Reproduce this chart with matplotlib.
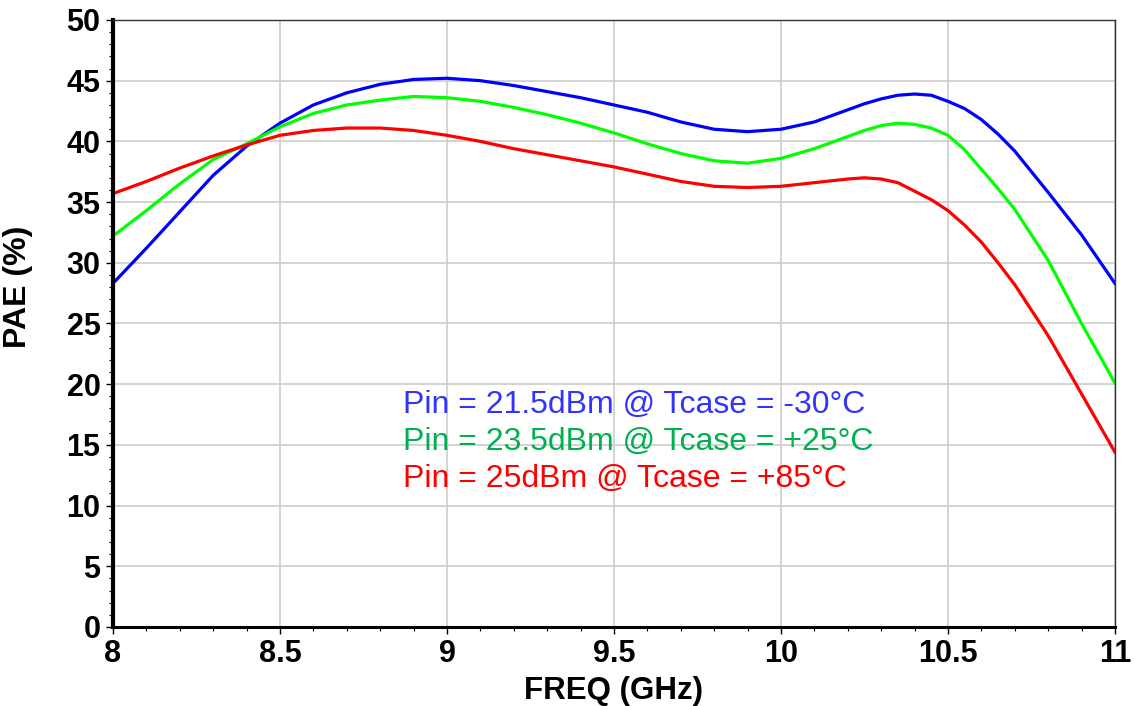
import numpy as np
import matplotlib
matplotlib.use("Agg")
import matplotlib.pyplot as plt
from matplotlib.ticker import MultipleLocator

# frequency points (GHz)
freq = [8.0, 8.1, 8.2, 8.3, 8.4, 8.5, 8.6, 8.7, 8.8, 8.9, 9.0,
        9.1, 9.2, 9.3, 9.4, 9.5, 9.6, 9.7, 9.8, 9.9, 10.0,
        10.1, 10.2, 10.25, 10.3, 10.35, 10.4, 10.45, 10.5, 10.55, 10.6,
        10.65, 10.7, 10.8, 10.9, 11.0]

# PAE (%) per condition
pae_cold = [28.3, 31.2, 34.2, 37.2, 39.6, 41.5, 43.0, 44.0, 44.7, 45.1, 45.2,
            45.0, 44.6, 44.1, 43.6, 43.0, 42.4, 41.6, 41.0, 40.8, 41.0,
            41.6, 42.6, 43.1, 43.5, 43.8, 43.9, 43.8, 43.3, 42.7, 41.8,
            40.6, 39.2, 35.8, 32.3, 28.3]
pae_room = [32.2, 34.3, 36.5, 38.5, 39.8, 41.2, 42.3, 43.0, 43.4, 43.7, 43.6,
            43.3, 42.8, 42.2, 41.5, 40.7, 39.8, 39.0, 38.4, 38.2, 38.6,
            39.4, 40.4, 40.9, 41.3, 41.5, 41.4, 41.1, 40.5, 39.3, 37.7,
            36.1, 34.4, 30.2, 25.0, 20.1]
pae_hot = [35.7, 36.7, 37.8, 38.8, 39.7, 40.5, 40.9, 41.1, 41.1, 40.9, 40.5,
           40.0, 39.4, 38.9, 38.4, 37.9, 37.3, 36.7, 36.3, 36.2, 36.3,
           36.6, 36.9, 37.0, 36.9, 36.6, 35.9, 35.2, 34.3, 33.1, 31.7,
           30.0, 28.2, 24.0, 19.2, 14.4]

labels = ["Pin = 21.5dBm @ Tcase = -30°C",
          "Pin = 23.5dBm @ Tcase = +25°C",
          "Pin = 25dBm @ Tcase = +85°C"]
line_colors = ["#0000FF", "#00FF00", "#FF0000"]
text_colors = ["#3333FF", "#00B050", "#FF0000"]

plt.rcParams['font.family'] = ['Liberation Sans', 'DejaVu Sans']

fig = plt.figure(figsize=(11.34, 7.06), dpi=100)
ax = fig.add_axes([0.0996, 0.1119, 0.8836, 0.8598])

for vals, c in zip([pae_cold, pae_room, pae_hot], line_colors):
    ax.plot(freq, vals, color=c, linewidth=2.3, solid_joinstyle='round')

ax.set_xlim(8, 11)
ax.set_ylim(0, 50)
ax.xaxis.set_minor_locator(MultipleLocator(0.1))
ax.yaxis.set_major_locator(MultipleLocator(5))
ax.yaxis.set_minor_locator(MultipleLocator(1))
ax.set_xticks([8, 8.5, 9, 9.5, 10, 10.5, 11])
ax.set_xticklabels(["8", "8.5", "9", "9.5", "10", "10.5", "11"])

# grid
ax.grid(True, which='major', color='#CCCCCC', linewidth=1.2)
ax.set_axisbelow(True)

ax.tick_params(axis='both', which='major', labelsize=22, length=5, width=1,
               direction='out', pad=4)
ax.tick_params(axis='both', which='minor', length=3, width=0.8, direction='out')
for lab in ax.get_xticklabels() + ax.get_yticklabels():
    lab.set_fontweight('bold')

ax.spines['left'].set_linewidth(3)
ax.spines['bottom'].set_linewidth(2.2)
ax.spines['top'].set_linewidth(1)
ax.spines['right'].set_linewidth(1)
ax.spines['top'].set_color('#333333')
ax.spines['right'].set_color('#333333')

ax.set_xlabel("FREQ (GHz)", fontsize=22.5, fontweight='bold', labelpad=5)
ax.set_ylabel("PAE (%)", fontsize=23, fontweight='bold')
ax.yaxis.set_label_coords(-0.080, 0.56)

# condition labels inside the plot
for i, (txt, c) in enumerate(zip(labels, text_colors)):
    ax.text(8.869, 17.63 - i * 3.05, txt, color=c, fontsize=23,
            ha='left', va='baseline')

fig.savefig("out.png", dpi=100)
